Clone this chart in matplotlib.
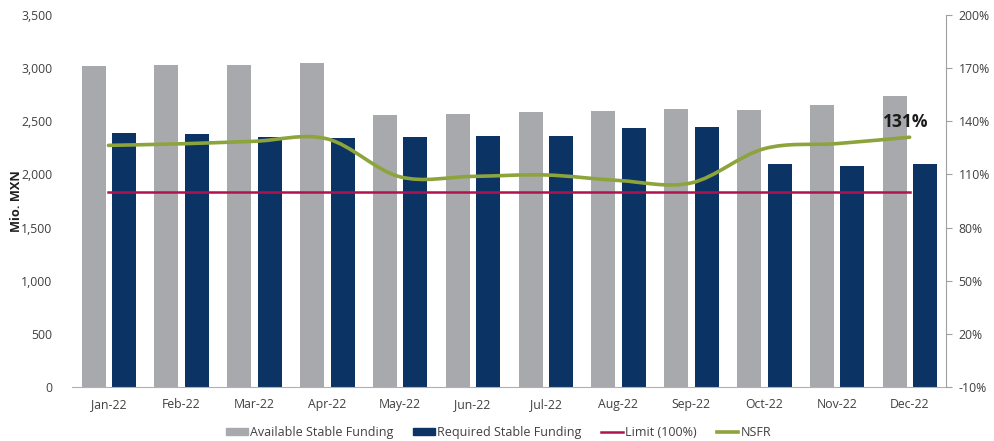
import numpy as np
import matplotlib.pyplot as plt
from matplotlib.path import Path
from matplotlib.patches import PathPatch, Patch
from matplotlib.lines import Line2D
from matplotlib.ticker import FuncFormatter

plt.rcParams['font.family'] = ['Open Sans', 'DejaVu Sans']

months = ['Jan-22', 'Feb-22', 'Mar-22', 'Apr-22', 'May-22', 'Jun-22',
          'Jul-22', 'Aug-22', 'Sep-22', 'Oct-22', 'Nov-22', 'Dec-22']
asf = [3020, 3030, 3030, 3050, 2560, 2570, 2590, 2600, 2615, 2610, 2650, 2740]
rsf = [2390, 2380, 2355, 2345, 2355, 2360, 2360, 2440, 2450, 2100, 2080, 2100]
nsfr = [126.4, 127.3, 128.7, 130.1, 108.7, 108.9, 109.7, 106.6, 105.2, 124.5, 127.4, 131.0]
limit = 100

gray = '#a7a9ad'
navy = '#0b3363'
crimson = '#b0124f'
green = '#8da43c'
txt = '#404040'


def smooth_path(xs, ys):
    # cubic bezier through the points, like a spreadsheet "smoothed line"
    pts = np.column_stack([xs, ys]).astype(float)
    verts = [pts[0]]
    codes = [Path.MOVETO]
    n = len(pts)
    for i in range(n - 1):
        p0 = pts[i - 1] if i > 0 else pts[i]
        p1, p2 = pts[i], pts[i + 1]
        p3 = pts[i + 2] if i + 2 < n else pts[i + 1]
        c1 = p1 + (p2 - p0) / 6
        c2 = p2 - (p3 - p1) / 6
        verts += [c1, c2, p2]
        codes += [Path.CURVE4] * 3
    return Path(verts, codes)


fig = plt.figure(figsize=(9.95, 4.41), dpi=100)
ax = fig.add_axes([0.0724, 0.1224, 0.8784, 0.8436])
x = np.arange(len(months))
w = 0.33
ax.bar(x - 0.205, asf, w, color=gray)
ax.bar(x + 0.215, rsf, w, color=navy)
ax.set_xlim(-0.5, 11.5)
ax.set_ylim(0, 3500)
ax.set_yticks(np.arange(0, 3501, 500))
ax.yaxis.set_major_formatter(FuncFormatter(lambda v, p: f'{v:,.0f}'))
ax.set_xticks(x)
ax.set_xticklabels(months)
ax.tick_params(axis='both', length=0, labelsize=8.8, colors=txt, pad=8)
ax.tick_params(axis='y', pad=14)
for s in ['top', 'left', 'right']:
    ax.spines[s].set_visible(False)
ax.spines['bottom'].set_color('#b0b0b0')
ax.set_ylabel('Mio. MXN', fontsize=9.2, fontweight='bold', color='#202020')
ax.yaxis.set_label_coords(-0.056, 0.5)

ax2 = ax.twinx()
ax2.set_ylim(-10, 200)
ax2.set_yticks(np.arange(-10, 201, 30))
ax2.yaxis.set_major_formatter(FuncFormatter(lambda v, p: f'{v:.0f}%'))
ax2.tick_params(axis='y', length=4, direction='out', color='#a0a0a0',
                labelsize=8.8, labelcolor=txt, pad=5)
for s in ['top', 'left', 'bottom']:
    ax2.spines[s].set_visible(False)
ax2.spines['right'].set_color('#a0a0a0')

ax2.plot([x[0], x[-1]], [limit, limit], color=crimson, lw=1.8)
ax2.add_patch(PathPatch(smooth_path(x, nsfr), facecolor='none', edgecolor=green,
                        lw=2.6, capstyle='round'))
ax2.annotate(f'{nsfr[-1]:.0f}%', xy=(x[-1], nsfr[-1]), xytext=(x[-1] - 0.05, nsfr[-1] + 3.5),
             ha='center', va='bottom', fontsize=12.5, fontweight='bold', color='#1a1a1a')

handles = [Patch(color=gray), Patch(color=navy),
           Line2D([], [], color=crimson, lw=1.8), Line2D([], [], color=green, lw=2.6)]
labels = ['Available Stable Funding', 'Required Stable Funding', 'Limit (100%)', 'NSFR']
fig.legend(handles, labels, loc='lower center', bbox_to_anchor=(0.501, -0.02), ncol=4,
           frameon=False, fontsize=9, labelcolor=txt, handlelength=1.75, handleheight=0.5,
           handletextpad=0.15, columnspacing=1.6)

fig.savefig('out.png', dpi=100)
